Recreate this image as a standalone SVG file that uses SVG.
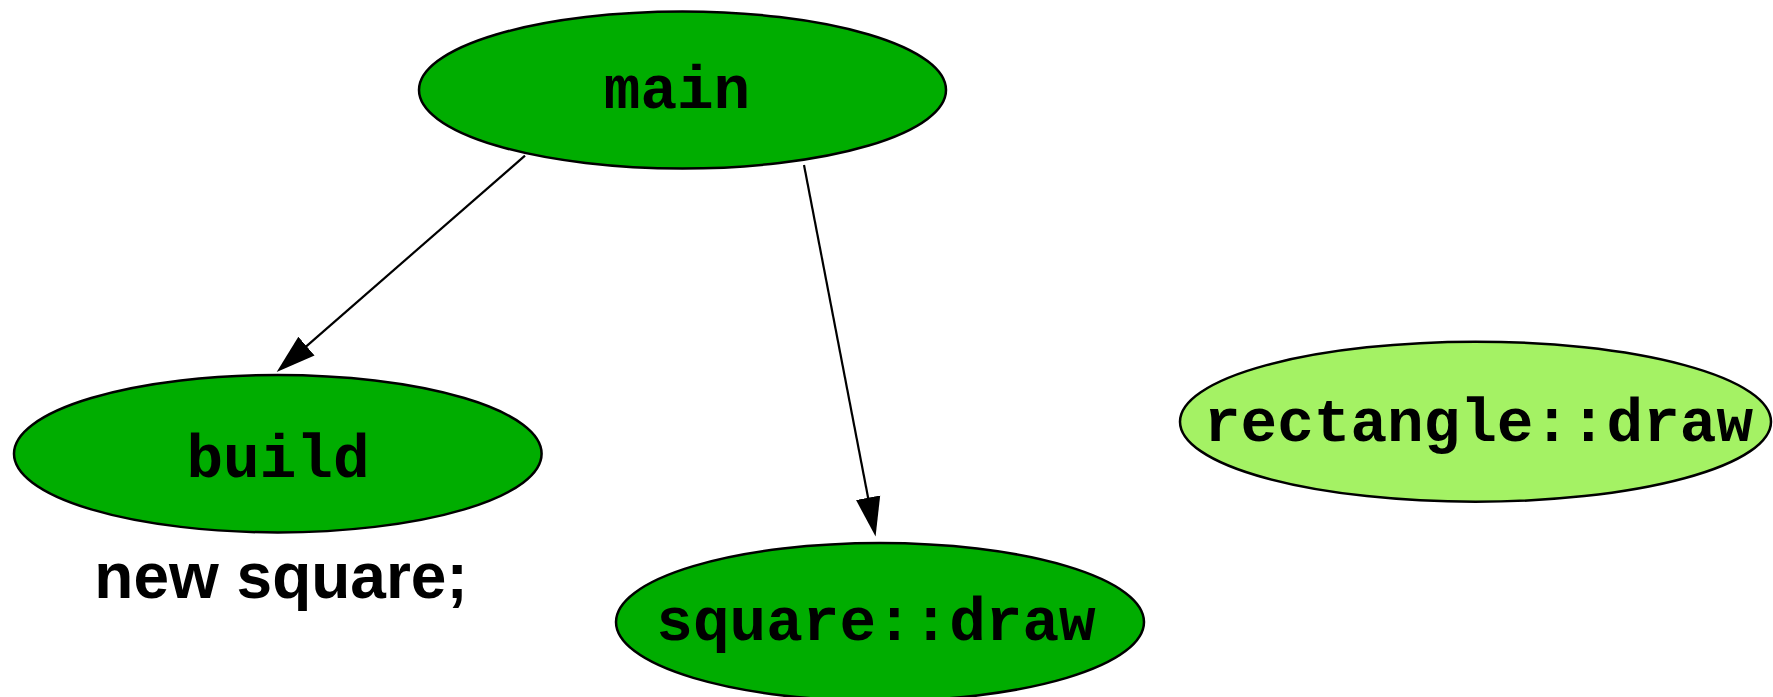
<svg xmlns="http://www.w3.org/2000/svg" width="1773" height="697" viewBox="0 0 1773 697">
  <style>
    .node ellipse { stroke: #000; stroke-width: 2.5; }
    .fn { fill: #00ad00; }
    .fn-unused { fill: #a4f264; }
    .label { font-family: "Liberation Mono", "Courier New", monospace; font-weight: bold; font-size: 61px; text-anchor: middle; fill: #000; }
    .note { font-family: "Liberation Sans", Arial, sans-serif; font-weight: bold; font-size: 64px; text-anchor: middle; fill: #000; }
    .edge { stroke: #000; stroke-width: 2.2; fill: none; marker-end: url(#arrow); }
  </style>
  <defs>
    <marker id="arrow" markerUnits="userSpaceOnUse" viewBox="0 -14 42 28" markerWidth="42" markerHeight="28" refX="1" refY="0" orient="auto">
      <path d="M0,-12.3 L39.5,0 L0,12.3 z" fill="#000"/>
    </marker>
  </defs>
  <rect width="1773" height="697" fill="#fff"/>

  <g id="edges">
    <line class="edge" x1="525" y1="155.7" x2="305.7" y2="346.8"/>
    <line class="edge" x1="804" y1="165" x2="868.3" y2="498.7"/>
  </g>

  <g id="node-main" class="node">
    <ellipse class="fn" cx="682.5" cy="90" rx="263.5" ry="78.5"/>
    <text class="label" x="677" y="108">main</text>
  </g>

  <g id="node-build" class="node">
    <ellipse class="fn" cx="277.8" cy="453.7" rx="263.8" ry="78.7"/>
    <text class="label" x="278" y="476.5">build</text>
  </g>

  <g id="node-build-note">
    <text class="note" x="281" y="598">new square;</text>
  </g>

  <g id="node-square-draw" class="node">
    <ellipse class="fn" cx="880" cy="622" rx="264" ry="79"/>
    <text class="label" x="876" y="639.5">square::draw</text>
  </g>

  <g id="node-rectangle-draw" class="node">
    <ellipse class="fn-unused" cx="1475.5" cy="421.7" rx="295.5" ry="80"/>
    <text class="label" x="1478.5" y="441">rectangle::draw</text>
  </g>
</svg>
